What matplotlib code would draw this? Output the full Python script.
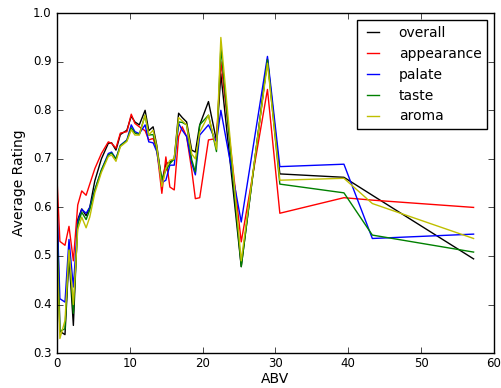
import matplotlib
matplotlib.use('Agg')
import matplotlib.pyplot as plt

# ABV bins and average ratings per aspect
abv = [0, 0.4, 1.1, 1.65, 2.25, 2.85, 3.4, 4.0, 4.5, 5.2, 6.1, 7.05, 7.5, 8.1, 8.7, 9.6,
       10.2, 10.7, 11.3, 12.1, 12.6, 13.2, 13.7, 14.4, 14.95, 15.5, 16.1, 16.7, 17.2, 17.8,
       18.5, 19.0, 19.6, 20.8, 21.9, 22.5, 25.3, 28.9, 30.6, 39.4, 43.3, 57.2]

overall = [0.62, 0.345, 0.338, 0.50, 0.357, 0.575, 0.597, 0.583, 0.60, 0.655, 0.70, 0.732,
           0.733, 0.718, 0.75, 0.759, 0.788, 0.776, 0.77, 0.80, 0.758, 0.766, 0.728, 0.653,
           0.69, 0.693, 0.70, 0.794, 0.785, 0.776, 0.718, 0.714, 0.77, 0.818, 0.737, 0.875,
           0.478, 0.905, 0.669, 0.662, 0.625, 0.494]

appearance = [0.66, 0.53, 0.522, 0.561, 0.49, 0.605, 0.634, 0.625, 0.648, 0.68, 0.711, 0.735,
              0.732, 0.722, 0.753, 0.756, 0.792, 0.773, 0.766, 0.758, 0.739, 0.742, 0.72, 0.629,
              0.704, 0.642, 0.636, 0.746, 0.766, 0.746, 0.677, 0.618, 0.62, 0.739, 0.742, 0.90,
              0.529, 0.843, 0.588, 0.62, 0.615, 0.60]

palate = [0.60, 0.412, 0.405, 0.534, 0.436, 0.57, 0.596, 0.588, 0.60, 0.636, 0.677, 0.711,
          0.714, 0.70, 0.728, 0.739, 0.77, 0.756, 0.752, 0.77, 0.735, 0.733, 0.715, 0.651,
          0.656, 0.687, 0.687, 0.773, 0.759, 0.746, 0.691, 0.667, 0.749, 0.77, 0.735, 0.80,
          0.570, 0.911, 0.684, 0.689, 0.536, 0.545]

taste = [0.56, 0.345, 0.35, 0.512, 0.382, 0.565, 0.59, 0.575, 0.595, 0.636, 0.677, 0.708,
         0.712, 0.70, 0.727, 0.738, 0.764, 0.753, 0.75, 0.79, 0.749, 0.75, 0.72, 0.658,
         0.676, 0.69, 0.70, 0.776, 0.775, 0.77, 0.698, 0.673, 0.77, 0.79, 0.715, 0.93,
         0.478, 0.904, 0.648, 0.630, 0.543, 0.508]

aroma = [0.52, 0.33, 0.367, 0.512, 0.40, 0.555, 0.58, 0.558, 0.58, 0.63, 0.672, 0.705,
         0.708, 0.695, 0.725, 0.736, 0.76, 0.749, 0.749, 0.79, 0.749, 0.759, 0.725, 0.643,
         0.68, 0.697, 0.70, 0.785, 0.778, 0.77, 0.71, 0.70, 0.755, 0.79, 0.72, 0.95,
         0.49, 0.897, 0.656, 0.66, 0.608, 0.536]

plt.style.use('classic')
plt.rcParams['xtick.labelsize'] = 8.5
plt.rcParams['ytick.labelsize'] = 8.5
plt.rcParams['xtick.major.pad'] = 3
fig = plt.figure(figsize=(5.02, 3.88), dpi=100, facecolor='white')
ax = fig.add_axes([0.1135, 0.09, 0.8705, 0.876])

ax.plot(abv, overall, 'k', label='overall')
ax.plot(abv, appearance, 'r', label='appearance')
ax.plot(abv, palate, 'b', label='palate')
ax.plot(abv, taste, 'g', label='taste')
ax.plot(abv, aroma, 'y', label='aroma')

ax.set_xlim(0, 60)
ax.set_ylim(0.3, 1.0)
ax.set_xlabel('ABV', fontsize=10, labelpad=1)
ax.set_ylabel('Average Rating', fontsize=10)
ax.legend(loc='upper right', fontsize=10, handlelength=1.5, handletextpad=1.1)

fig.savefig('out.png', dpi=100, facecolor='white')
